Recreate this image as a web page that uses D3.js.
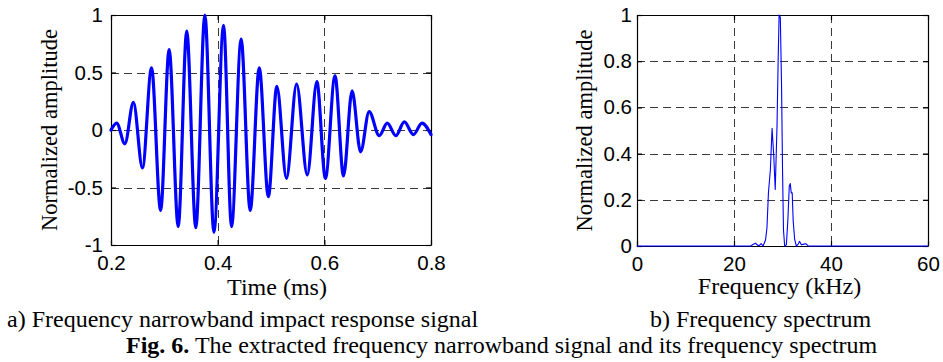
<!DOCTYPE html>
<html><head><meta charset="utf-8">
<script src="https://cdn.jsdelivr.net/npm/d3@7/dist/d3.min.js"></script>
<style>
body{margin:0;background:#fff;}
svg{display:block;background:#fff;}
</style></head><body>
<svg id="chart" width="943" height="362"></svg>
<script>
// ---- Data ----
const timeMs = [0.200, 0.2106, 0.226, 0.242, 0.259, 0.276, 0.293, 0.309, 0.326, 0.342, 0.359, 0.376, 0.393, 0.411, 0.426, 0.444, 0.461, 0.478, 0.495, 0.511, 0.529, 0.548, 0.568, 0.586, 0.602, 0.620, 0.636, 0.652, 0.668, 0.684, 0.703, 0.718, 0.734, 0.750, 0.767, 0.783, 0.800];
const amplitude = [0.00, 0.06, -0.12, 0.24, -0.33, 0.54, -0.70, 0.70, -0.84, 0.86, -0.85, 1.00, -0.89, 0.91, -0.84, 0.79, -0.70, 0.54, -0.58, 0.38, -0.42, 0.40, -0.39, 0.42, -0.42, 0.47, -0.40, 0.34, -0.19, 0.16, -0.05, 0.06, -0.05, 0.07, -0.04, 0.06, -0.04];

const freqKHz = [0, 23.5, 23.9, 24.4, 25.1, 25.6, 26.0, 26.5, 26.8, 27.1, 27.5, 27.85, 28.2, 28.5, 28.87, 29.1, 29.3, 29.55, 29.8, 30.0, 30.2, 30.45, 30.8, 31.1, 31.4, 31.6, 31.8, 32.0, 32.2, 32.5, 32.85, 33.2, 33.5, 33.9, 34.4, 34.8, 35.3, 60];
const spectrumAmp = [0, 0, 0.007, 0.012, 0, 0.01, 0, 0.026, 0.08, 0.23, 0.33, 0.51, 0.39, 0.245, 0.52, 0.80, 1.00, 0.99, 0.70, 0.34, 0.07, 0, 0.005, 0.11, 0.26, 0.27, 0.23, 0.23, 0.11, 0.03, 0, 0.007, 0.02, 0.005, 0.008, 0.01, 0, 0];

const timeTicks = [0.2, 0.4, 0.6, 0.8];
const timeTickLabels = ["0.2", "0.4", "0.6", "0.8"];
const ampTicks = [-1, -0.5, 0, 0.5, 1];
const ampTickLabels = ["-1", "-0.5", "0", "0.5", "1"];
const freqTicks = [0, 20, 40, 60];
const freqTickLabels = ["0", "20", "40", "60"];
const specTicks = [0, 0.2, 0.4, 0.6, 0.8, 1];
const specTickLabels = ["0", "0.2", "0.4", "0.6", "0.8", "1"];

const xLabelA = "Time (ms)";
const xLabelB = "Frequency (kHz)";
const yLabel = "Normalized amplitude";
const captionA = "a) Frequency narrowband impact response signal";
const captionB = "b) Frequency spectrum";
const figBold = "Fig. 6.";
const figText = " The extracted frequency narrowband signal and its frequency spectrum";

// ---- Drawing ----
const svg = d3.select("#chart");
const SANS = "'Liberation Sans', Arial, sans-serif";
const SERIF = "'Liberation Serif', 'Times New Roman', serif";

function panel(cfg) {
  const x = d3.scaleLinear().domain(cfg.xDomain).range([cfg.x0, cfg.x1]);
  const y = d3.scaleLinear().domain(cfg.yDomain).range([cfg.y1, cfg.y0]);
  const g = svg.append("g");

  // grid
  const grid = g.append("g").attr("stroke", "#3a3a3a").attr("stroke-width", 1)
    .attr("stroke-dasharray", "8,5").attr("fill", "none");
  cfg.xTicks.slice(1, -1).forEach(v => {
    const px = Math.round(x(v)) + 0.5;
    grid.append("line").attr("x1", px).attr("x2", px).attr("y1", cfg.y0).attr("y2", cfg.y1);
  });
  cfg.yTicks.slice(1, -1).forEach(v => {
    const py = Math.round(y(v)) + 0.5;
    grid.append("line").attr("x1", cfg.x0).attr("x2", cfg.x1).attr("y1", py).attr("y2", py);
  });

  // axes (MATLAB box style: inward ticks on all sides)
  const fmtX = d => cfg.xTickLabels[cfg.xTicks.indexOf(d)];
  const fmtY = d => cfg.yTickLabels[cfg.yTicks.indexOf(d)];
  const styleAxis = sel => {
    sel.selectAll("path").attr("stroke", "#000").attr("stroke-width", 1.2);
    sel.selectAll("line").attr("stroke", "#000").attr("stroke-width", 1.2);
    sel.selectAll("text").attr("fill", "#000").attr("font-family", SANS).attr("font-size", "20.5px");
  };
  g.append("g").attr("transform", `translate(0,${cfg.y1})`)
    .call(d3.axisBottom(x).tickValues(cfg.xTicks).tickFormat(fmtX).tickSizeInner(-5).tickSizeOuter(0).tickPadding(10))
    .call(styleAxis);
  g.append("g").attr("transform", `translate(0,${cfg.y0})`)
    .call(d3.axisTop(x).tickValues(cfg.xTicks).tickFormat("").tickSizeInner(-5).tickSizeOuter(0))
    .call(styleAxis);
  g.append("g").attr("transform", `translate(${cfg.x0},0)`)
    .call(d3.axisLeft(y).tickValues(cfg.yTicks).tickFormat(fmtY).tickSizeInner(-5).tickSizeOuter(0).tickPadding(cfg.yPad))
    .call(styleAxis);
  g.append("g").attr("transform", `translate(${cfg.x1},0)`)
    .call(d3.axisRight(y).tickValues(cfg.yTicks).tickFormat("").tickSizeInner(-5).tickSizeOuter(0))
    .call(styleAxis);

  // data line
  const line = d3.line().x((d, i) => x(cfg.xs[i])).y(d => y(d)).curve(cfg.curve);
  g.append("path").datum(cfg.ys).attr("d", line)
    .attr("fill", "none").attr("stroke", "#0000ff").attr("stroke-width", cfg.lw)
    .attr("stroke-linejoin", "round").attr("stroke-linecap", "round");

  // labels
  g.append("text").attr("x", (cfg.x0 + cfg.x1) / 2 + cfg.xlDx).attr("y", cfg.xlY)
    .attr("text-anchor", "middle").attr("font-family", SERIF).attr("font-size", "24px")
    .text(cfg.xLabel);
  g.append("text").attr("transform", `translate(${cfg.ylX},${(cfg.y0 + cfg.y1) / 2}) rotate(-90)`)
    .attr("text-anchor", "middle").attr("font-family", SERIF).attr("font-size", "22.5px")
    .text(cfg.yLabel);
}

panel({
  x0: 111, x1: 431, y0: 15, y1: 245,
  xDomain: [0.2, 0.8], yDomain: [-1, 1],
  xTicks: timeTicks, xTickLabels: timeTickLabels,
  yTicks: ampTicks, yTickLabels: ampTickLabels, yPad: 8,
  xs: timeMs, ys: amplitude, curve: d3.curveMonotoneX, lw: 3.2,
  xLabel: xLabelA, xlY: 295, xlDx: 6, yLabel: yLabel, ylX: 57
});
panel({
  x0: 637, x1: 928, y0: 15, y1: 246,
  xDomain: [0, 60], yDomain: [0, 1],
  xTicks: freqTicks, xTickLabels: freqTickLabels,
  yTicks: specTicks, yTickLabels: specTickLabels, yPad: 5,
  xs: freqKHz, ys: spectrumAmp, curve: d3.curveLinear, lw: 1.1,
  xLabel: xLabelB, xlY: 294, xlDx: -3, yLabel: yLabel, ylX: 592
});

// captions
svg.append("text").attr("x", 7).attr("y", 327).attr("font-family", SERIF).attr("font-size", "24px").text(captionA);
svg.append("text").attr("x", 650).attr("y", 327).attr("font-family", SERIF).attr("font-size", "24px").text(captionB);
const fig = svg.append("text").attr("x", 126).attr("y", 353).attr("font-family", SERIF).attr("font-size", "24px");
fig.append("tspan").attr("font-weight", "bold").text(figBold);
fig.append("tspan").text(figText);
</script>
</body></html>
